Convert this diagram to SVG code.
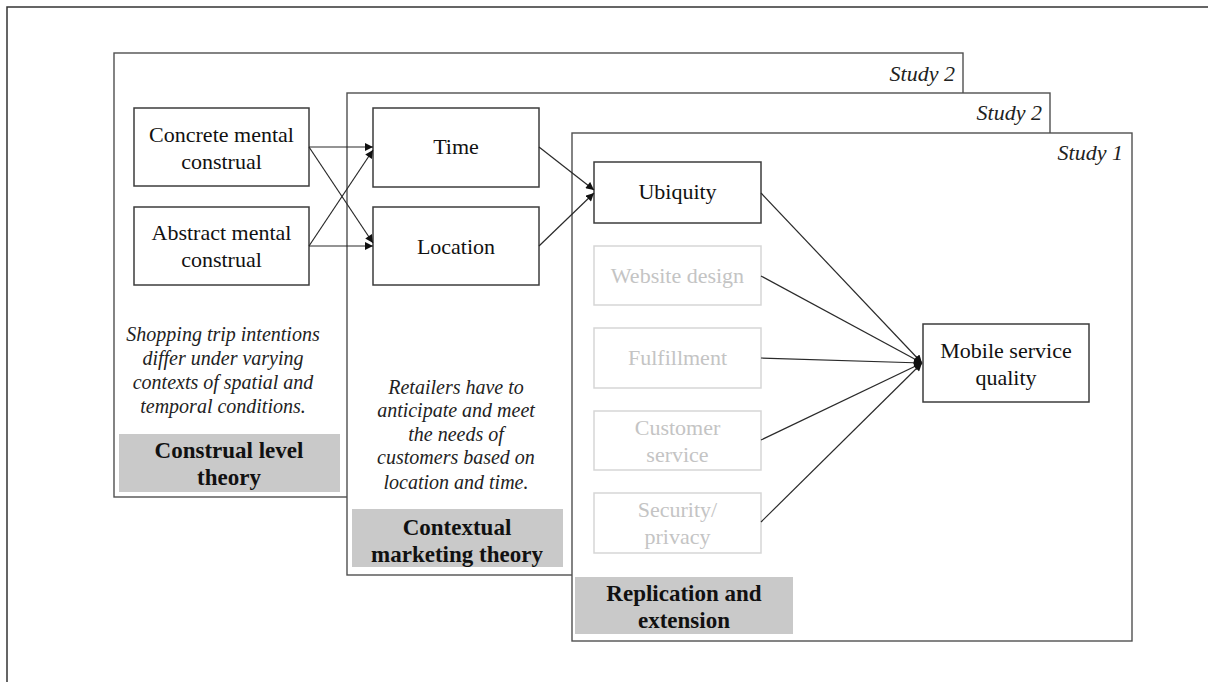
<svg xmlns="http://www.w3.org/2000/svg" width="1208" height="682" viewBox="0 0 1208 682">
<defs>
<marker id="ah" viewBox="0 0 10 10" refX="10" refY="5" markerWidth="9" markerHeight="8" markerUnits="userSpaceOnUse" orient="auto">
<path d="M0,0 L10,5 L0,10 z" fill="#111"/>
</marker>
</defs>
<style>
.frame{fill:none;stroke:#333;stroke-width:1.5}
.panel{fill:#fff;stroke:#505050;stroke-width:1.4}
.box{fill:#fff;stroke:#3c3c3c;stroke-width:1.5}
.fbox{fill:#fff;stroke:#d6d6d6;stroke-width:1.5}
.grey{fill:#c9c9c9;stroke:none}
.t{font-family:"Liberation Serif","Times New Roman",serif;font-size:22px;fill:#111;text-anchor:middle}
.ft{font-family:"Liberation Serif","Times New Roman",serif;font-size:22px;fill:#c4c4c4;text-anchor:middle}
.it{font-family:"Liberation Serif","Times New Roman",serif;font-size:20px;font-style:italic;fill:#222;text-anchor:middle}
.st{font-family:"Liberation Serif","Times New Roman",serif;font-size:22px;font-style:italic;fill:#222;text-anchor:end}
.bt{font-family:"Liberation Serif","Times New Roman",serif;font-size:23px;font-weight:bold;fill:#111;text-anchor:middle}
.con{fill:none;stroke:#2a2a2a;stroke-width:1.2;marker-end:url(#ah)}
</style>
<rect width="1208" height="682" fill="#fff"/>
<path class="frame" d="M7,682 V7 H1208"/>

<g id="panel-construal">
<rect class="panel" x="114" y="53" width="849" height="444"/>
<text class="st" x="955" y="81">Study 2</text>
<text class="it" x="223" y="341">Shopping trip intentions</text>
<text class="it" x="223" y="365">differ under varying</text>
<text class="it" x="223" y="389">contexts of spatial and</text>
<text class="it" x="223" y="413">temporal conditions.</text>
<rect class="grey" x="119" y="434" width="221" height="58"/>
<text class="bt" x="229" y="458">Construal level</text>
<text class="bt" x="229" y="485">theory</text>
</g>

<g id="node-concrete">
<rect class="box" x="134" y="108" width="175" height="78"/>
<text class="t" x="221.5" y="142">Concrete mental</text>
<text class="t" x="221.5" y="169">construal</text>
</g>
<g id="node-abstract">
<rect class="box" x="134" y="207" width="175" height="78"/>
<text class="t" x="221.5" y="240">Abstract mental</text>
<text class="t" x="221.5" y="267">construal</text>
</g>

<g id="panel-contextual">
<rect class="panel" x="347" y="93" width="703" height="482"/>
<text class="st" x="1042" y="120">Study 2</text>
<text class="it" x="456" y="394">Retailers  have to</text>
<text class="it" x="456" y="417">anticipate and meet</text>
<text class="it" x="456" y="441">the needs of</text>
<text class="it" x="456" y="464">customers  based on</text>
<text class="it" x="456" y="489">location and time.</text>
<rect class="grey" x="352" y="509" width="211" height="58"/>
<text class="bt" x="457" y="535">Contextual</text>
<text class="bt" x="457" y="562">marketing theory</text>
</g>

<g id="node-time">
<rect class="box" x="373" y="108" width="166" height="79"/>
<text class="t" x="456" y="154">Time</text>
</g>
<g id="node-location">
<rect class="box" x="373" y="207" width="166" height="78"/>
<text class="t" x="456" y="254">Location</text>
</g>

<g id="panel-replication">
<rect class="panel" x="572" y="133" width="560" height="508"/>
<text class="st" x="1123" y="160">Study 1</text>
<rect class="grey" x="575" y="577" width="218" height="57"/>
<text class="bt" x="684" y="601">Replication and</text>
<text class="bt" x="684" y="628">extension</text>
</g>

<g id="node-ubiquity">
<rect class="box" x="594" y="162" width="167" height="61"/>
<text class="t" x="677.5" y="199">Ubiquity</text>
</g>
<g id="node-website">
<rect class="fbox" x="594" y="246" width="167" height="59"/>
<text class="ft" x="677.5" y="283">Website design</text>
</g>
<g id="node-fulfillment">
<rect class="fbox" x="594" y="328" width="167" height="60"/>
<text class="ft" x="677.5" y="365">Fulfillment</text>
</g>
<g id="node-customer">
<rect class="fbox" x="594" y="411" width="167" height="59"/>
<text class="ft" x="677.5" y="435">Customer</text>
<text class="ft" x="677.5" y="462">service</text>
</g>
<g id="node-security">
<rect class="fbox" x="594" y="493" width="167" height="60"/>
<text class="ft" x="677.5" y="517">Security/</text>
<text class="ft" x="677.5" y="544">privacy</text>
</g>
<g id="node-mobile">
<rect class="box" x="923" y="324" width="166" height="78"/>
<text class="t" x="1006" y="358">Mobile service</text>
<text class="t" x="1006" y="385">quality</text>
</g>

<g id="connectors">
<line class="con" x1="309" y1="147" x2="373" y2="147"/>
<line class="con" x1="309" y1="147" x2="373" y2="243"/>
<line class="con" x1="309" y1="246" x2="373" y2="150"/>
<line class="con" x1="309" y1="246" x2="373" y2="246"/>
<line class="con" x1="539" y1="147" x2="594" y2="190"/>
<line class="con" x1="539" y1="246" x2="594" y2="193"/>
<line class="con" x1="761" y1="193" x2="922" y2="363"/>
<line class="con" x1="761" y1="276" x2="922" y2="363"/>
<line class="con" x1="761" y1="358" x2="922" y2="363"/>
<line class="con" x1="761" y1="440" x2="922" y2="363"/>
<line class="con" x1="761" y1="522" x2="922" y2="363"/>
</g>
</svg>
